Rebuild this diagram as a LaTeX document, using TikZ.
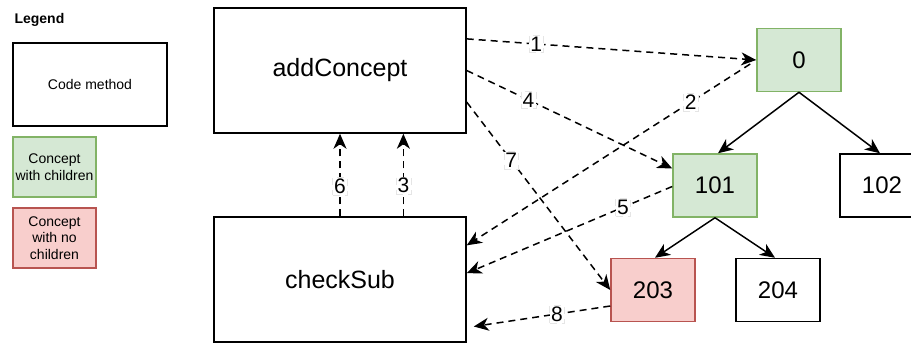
\documentclass[tikz,border=0pt]{standalone}
\usepackage{fontspec}
\setmainfont{Liberation Sans}
\usetikzlibrary{arrows.meta, calc, positioning}
\definecolor{kidgreen}{HTML}{D5E8D4}
\definecolor{kidgreenline}{HTML}{82B366}
\definecolor{leafred}{HTML}{F8CECC}
\definecolor{leafredline}{HTML}{B85450}

\begin{document}
\begin{tikzpicture}[x=1pt, y=-1pt,
				methodbox/.style={draw=black, line width=1.5pt, inner sep=0pt,
					minimum width=252pt, minimum height=125pt,
					font=\fontsize{25}{30}\selectfont},
				conceptbox/.style={draw=black, line width=1.5pt, inner sep=0pt,
					minimum width=84pt, minimum height=63pt,
					font=\fontsize{24}{28}\selectfont},
				kidbox/.style={conceptbox, draw=kidgreenline, fill=kidgreen},
				leafbox/.style={conceptbox, draw=leafredline, fill=leafred},
				legendbox/.style={draw=black, line width=1.1pt, inner sep=0pt,
					align=center, font=\fontsize{14}{16.5}\selectfont},
				treearr/.style={-{Stealth[length=15pt, width=13pt, inset=4.5pt]},
					line width=1.5pt},
				callarr/.style={treearr, dash pattern=on 7pt off 5pt},
				steplabel/.style={fill=white, draw=black!10, line width=0.4pt,
					inner sep=1.5pt, font=\fontsize{21}{24}\selectfont}
				]
				\useasboundingbox (0,0) rectangle (911,343);
				% legend
				\node[anchor=west, font=\fontsize{14}{16}\selectfont\bfseries] (legend) at (11,20) {Legend};
				\node[legendbox, minimum width=154pt, minimum height=83pt] (lgmethod) at (90,84.5) {Code method};
				\node[legendbox, draw=kidgreenline, fill=kidgreen, minimum width=83pt, minimum height=60pt]
				(lgkid) at (54.5,167) {Concept\\with children};
				\node[legendbox, draw=leafredline, fill=leafred, minimum width=83pt, minimum height=60pt]
				(lgleaf) at (54.5,238) {Concept\\with no\\children};
				% methods
				\node[methodbox] (addc) at (340,70.5) {addConcept};
				\node[methodbox] (checks) at (340,279.5) {checkSub};
				% concept tree
				\node[kidbox] (c0) at (799,60) {0};
				\node[kidbox] (c101) at (715,185.5) {101};
				\node[conceptbox] (c102) at (882,185.5) {102};
				\node[leafbox] (c203) at (653,290) {203};
				\node[conceptbox] (c204) at (778,290) {204};
				\draw[treearr] (c0.south) -- ($(c101.north)+(3,0)$);
				\draw[treearr] (c0.south) -- ($(c102.north)+(-2,0)$);
				\draw[treearr] (c101.south) -- ($(c203.north)+(2,0)$);
				\draw[treearr] (c101.south) -- ($(c204.north)+(-3,0)$);
				% calls
				\draw[callarr] ($(addc.north east)!0.25!(addc.south east)$) -- (c0.west)
				node[steplabel, pos=0.24] {1};
				\draw[callarr] ($(c0.west)+(-6,4)$) -- ($(checks.north east)!0.23!(checks.south east)$)
				node[steplabel, pos=0.21] {2};
				\draw[callarr] ($(checks.north west)!0.75!(checks.north east)$) -- ($(addc.south west)!0.75!(addc.south east)$)
				node[steplabel, pos=0.37] {3};
				\draw[callarr] (addc.east) -- ($(c101.west)+(0,-17)$)
				node[steplabel, pos=0.30] {4};
				\draw[callarr] ($(c101.west)+(0,1)$) -- ($(checks.north east)!0.45!(checks.south east)$)
				node[steplabel, pos=0.24] {5};
				\draw[callarr] (checks.north) -- (addc.south)
				node[steplabel, pos=0.36] {6};
				\draw[callarr] ($(addc.north east)!0.75!(addc.south east)$) -- (c203.west)
				node[steplabel, pos=0.31] {7};
				\draw[callarr] ($(c203.west)+(0,16)$) -- ($(checks.east)+(7,47)$)
				node[steplabel, pos=0.39] {8};
			\end{tikzpicture}
\end{document}
